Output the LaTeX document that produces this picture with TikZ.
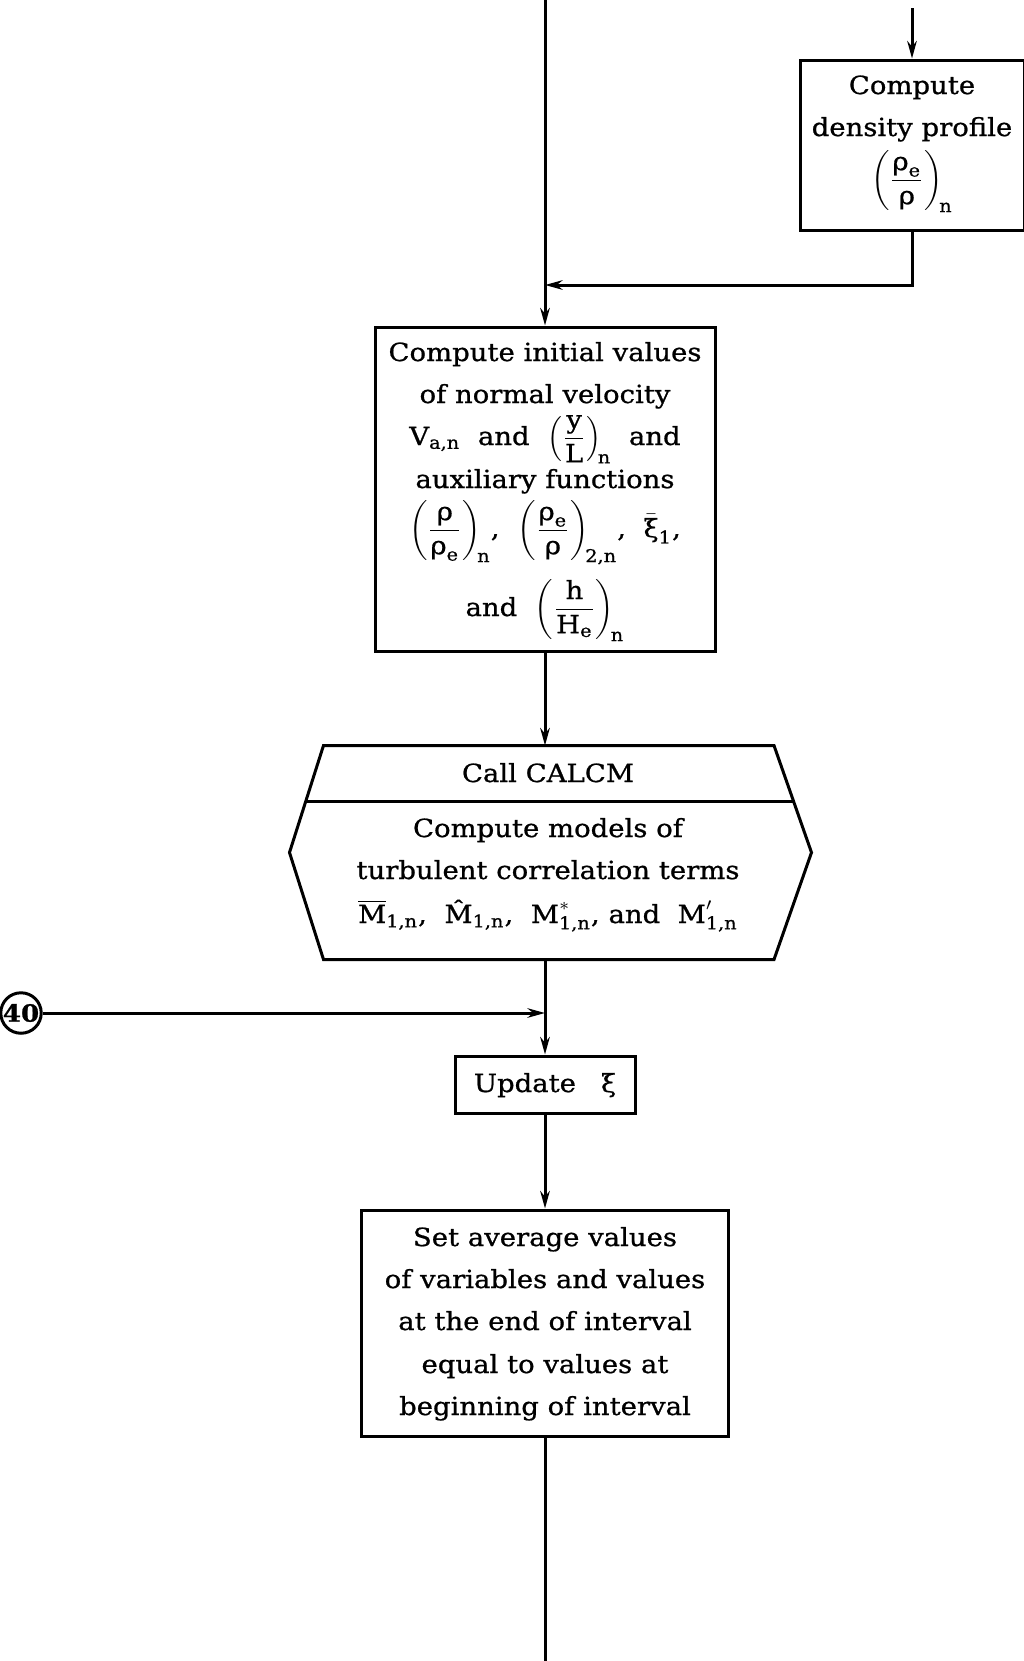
\documentclass[tikz,border=0pt]{standalone}
\usepackage{amsmath}
\usepackage{fontspec}
\setmainfont{DejaVu Serif}[FakeStretch=1.1,FakeBold=0.8]
\usetikzlibrary{arrows.meta,calc}
\newcommand{\rhotxt}{\text{ρ}}
\newcommand{\tx}[1]{\text{#1}}
\begin{document}
\begin{tikzpicture}[x=0.4pt,y=-0.4pt,line width=1.2pt,
  boxshape/.style={draw,rectangle,inner sep=0pt},
  txt/.style={anchor=base,inner sep=0pt,font=\fontsize{10}{12}\selectfont},
  flowarrow/.style={-{Stealth[length=7pt,width=3.8pt]}}]
\useasboundingbox (0,0) rectangle (1024,1661);

% --- process shapes ---
\node[boxshape,minimum width=89.6pt,minimum height=68pt] (dens) at (912,145) {};
\node[boxshape,minimum width=136pt,minimum height=129.6pt] (init) at (545,489) {};
\node[inner sep=0pt,minimum width=207.6pt,minimum height=84.4pt] (hex) at (550.5,852.5) {};
\node[boxshape,minimum width=72pt,minimum height=22.8pt] (upd) at (545,1084.5) {};
\node[boxshape,minimum width=146.8pt,minimum height=90.4pt] (setavg) at (545,1323) {};
\node[draw,circle,inner sep=0pt,minimum size=14.4pt,font=\fontsize{9.5}{10}\selectfont\bfseries] (c40) at (21,1013) {40};

% subroutine call outline
\coordinate (hnw) at ($(hex.north west)+(13.6pt,0)$);
\coordinate (hne) at ($(hex.north east)+(-15pt,0)$);
\coordinate (hsw) at ($(hex.south west)+(13.6pt,0)$);
\coordinate (hse) at ($(hex.south east)+(-15pt,0)$);
\draw (hnw) -- (hne) -- (hex.east) -- (hse) -- (hsw) -- (hex.west) -- cycle;
\draw ($(hnw)!0.521!(hex.west)$) -- ($(hne)!0.521!(hex.east)$);

% --- texts ---
\node[txt] (d1) at (912,94) {Compute};
\node[txt] (d2) at (912,136) {density profile};
\node[txt] (d3) at (912,187) {$\left(\dfrac{\rhotxt_{\tx{e}}}{\rhotxt}\right)_{\!\tx{n}}$};

\node[txt] (i1) at (545,361) {Compute initial values};
\node[txt] (i2) at (545,403) {of normal velocity};
\node[txt] (i3) at (545,445) {$\tx{V}_{\tx{a,n}}$\ \ and\ \ $\left(\dfrac{\tx{y}}{\tx{L}}\right)_{\!\tx{n}}$\ \ and};
\node[txt] (i4) at (545,488) {auxiliary functions};
\node[txt] (i5) at (545,537) {$\left(\dfrac{\rhotxt}{\rhotxt_{\tx{e}}}\right)_{\!\tx{n}}$,\ \ $\left(\dfrac{\rhotxt_{\tx{e}}}{\rhotxt}\right)_{\!\tx{2,n}}$,\ \ $\bar{\tx{ξ}}_{\tx{1}}$,};
\node[txt] (i6) at (545,616) {and\ \ $\left(\dfrac{\tx{h}}{\tx{H}_{\tx{e}}}\right)_{\!\tx{n}}$};

\node[txt] (h1) at (548,782) {Call CALCM};
\node[txt] (h2) at (548,837) {Compute models of};
\node[txt] (h3) at (548,879) {turbulent correlation terms};
\node[txt] (h4) at (548,923) {$\overline{\tx{M}}_{\tx{1,n}}$,\ \ $\tx{\^M}_{\tx{1,n}}$,\ \ $\tx{M}^{*}_{\tx{1,n}}$, and\ \ $\tx{M}'_{\tx{1,n}}$};

\node[txt] (u1) at (545,1092) {Update\quad ξ};

\node[txt] (s1) at (545,1246) {Set average values};
\node[txt] (s2) at (545,1288) {of variables and values};
\node[txt] (s3) at (545,1330) {at the end of interval};
\node[txt] (s4) at (545,1373) {equal to values at};
\node[txt] (s5) at (545,1415) {beginning of interval};

% --- connectors ---
\coordinate (topin) at (545,0);
\coordinate (topdens) at (912,8);
\coordinate (merge) at (545,285);
\coordinate (join40) at (545,1013);
\coordinate (bottom) at (545,1661);

\draw[flowarrow] (topdens) -- (dens.north);
\draw (topin) -- (merge);
\draw[flowarrow] (dens.south) |- (merge);
\draw[flowarrow] (merge) -- (init.north);
\draw[flowarrow] (init.south) -- (init.south |- hex.north);
\draw (hex.south -| join40) -- (join40);
\draw[flowarrow] (c40) -- (join40);
\draw[flowarrow] (join40) -- (upd.north);
\draw[flowarrow] (upd.south) -- (setavg.north);
\draw (setavg.south) -- (bottom);
\end{tikzpicture}
\end{document}
